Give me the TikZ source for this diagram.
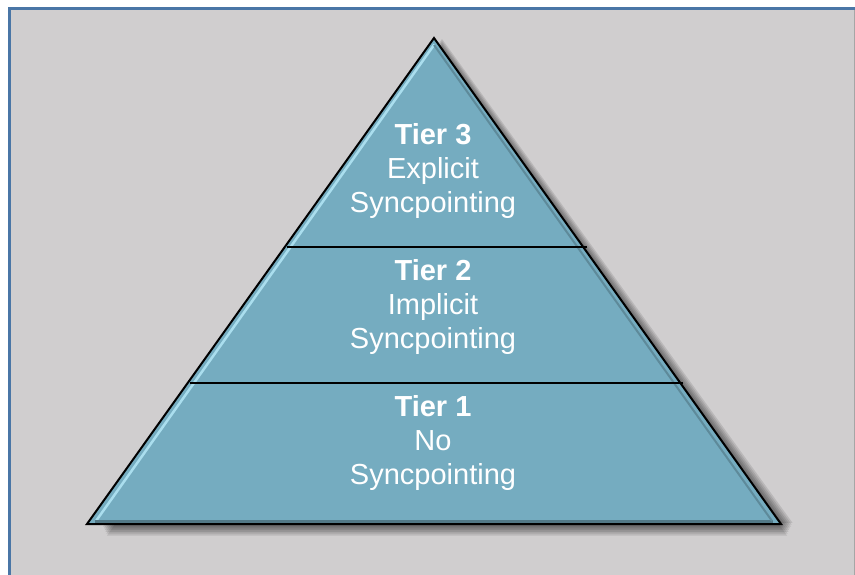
\documentclass[tikz,border=0pt]{standalone}
\usepackage{fontspec}
\setmainfont{Liberation Sans}
\usetikzlibrary{calc}
\begin{document}
\begin{tikzpicture}[x=1pt,y=-1pt,
  tiertext/.style={text=white,align=center,font=\fontsize{29}{34}\selectfont,inner sep=0pt},
  divider/.style={line width=2pt,black},
  shadowlayer/.style={fill=black,fill opacity=0.1}]
\definecolor{bggray}{RGB}{208,206,207}
\definecolor{frameblue}{RGB}{74,118,166}
\definecolor{pyrfill}{RGB}{117,172,192}
\definecolor{pyrlight}{RGB}{170,222,238}
\useasboundingbox (0,0) rectangle (855,575);
\fill[white] (0,0) rectangle (855,575);
\fill[bggray] (8,7) rectangle (855,575);
\draw[frameblue,line width=3pt] (9.5,575) -- (9.5,8.5) -- (855,8.5);
\draw[gray!70,line width=1pt] (854.5,10) -- (854.5,575);
% corner coordinates
\coordinate (apex) at (434,38);
\coordinate (bl) at (87,524);
\coordinate (br) at (781,524);
% drop shadow
\foreach \d in {1,3,...,15}{
  \fill[shadowlayer] ($(bl)+(14+\d*0.4,\d*0.9-2)$) -- ($(br)+(12-\d*0.4,\d*0.9-2)$) -- ($(apex)+(8,\d)$) -- cycle;
}
% pyramid
\fill[pyrfill] (apex) -- (bl) -- (br) -- cycle;
% bevel highlights
\draw[pyrlight,line width=2.5pt,line cap=round] ($(apex)+(0,7)$) -- ($(bl)+(9,-3)$);
\draw[pyrfill!70!black,line width=2.5pt] ($(bl)+(8,-2.5)$) -- ($(br)+(-8,-2.5)$);
\draw[pyrfill!80!black,line width=2pt] ($(apex)+(0,7)$) -- ($(br)+(-9,-3)$);
\draw[black,line width=2pt,line join=miter] (apex) -- (bl) -- (br) -- cycle;
% dividers
\coordinate (d3l) at (287,247);
\coordinate (d3r) at (587,247);
\coordinate (d2l) at (190,383);
\coordinate (d2r) at (683,383);
\draw[divider] (d3l) -- (d3r);
\draw[divider] (d2l) -- (d2r);
% labels
\node[tiertext] (t3) at (433,171) {\textbf{Tier 3}\\Explicit\\Syncpointing};
\node[tiertext] (t2) at (433,307) {\textbf{Tier 2}\\Implicit\\Syncpointing};
\node[tiertext] (t1) at (433,443) {\textbf{Tier 1}\\No\\Syncpointing};
\end{tikzpicture}
\end{document}
